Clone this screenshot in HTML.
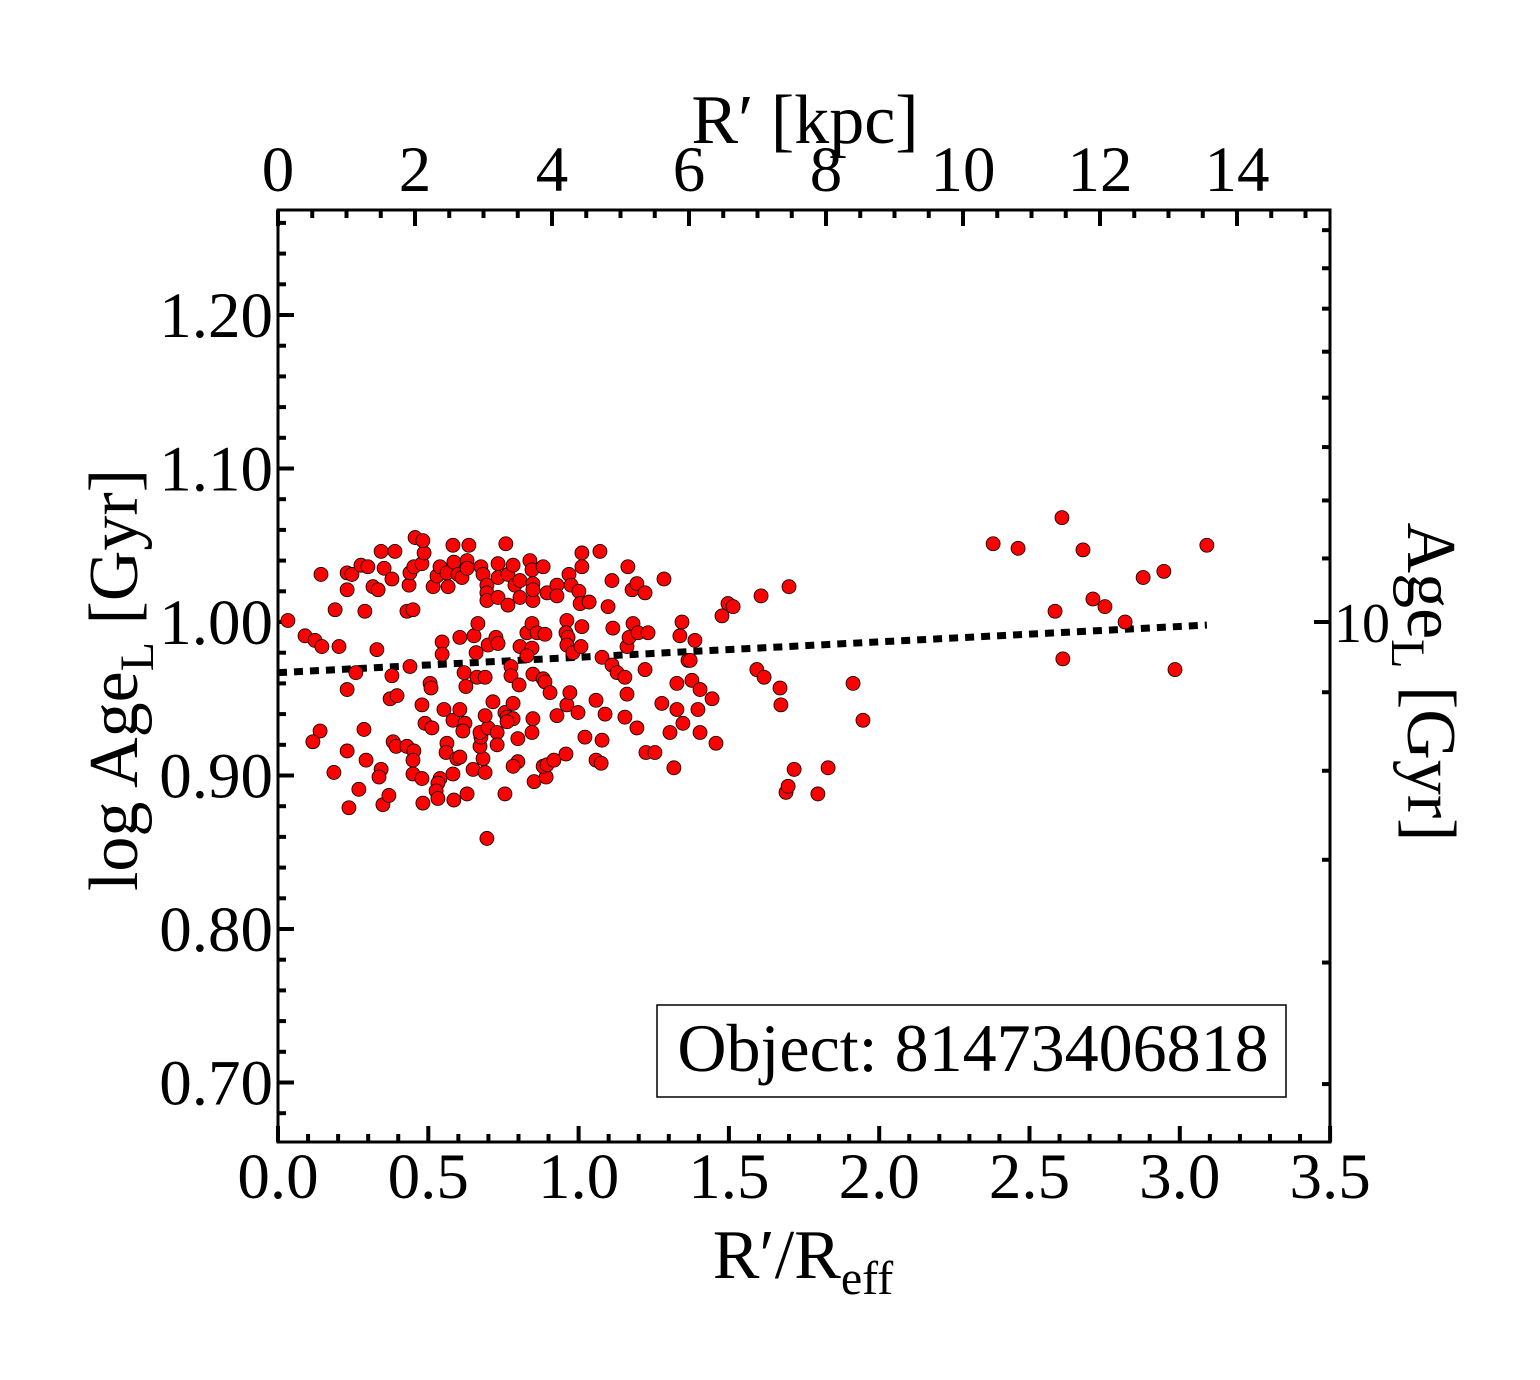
<!DOCTYPE html>
<html><head><meta charset="utf-8"><style>
html,body{margin:0;padding:0;background:#fff;}
svg text{font-family:"Liberation Serif",serif;fill:#000;}
</style></head><body>
<svg id="chart" width="1540" height="1375" viewBox="0 0 1540 1375" xmlns="http://www.w3.org/2000/svg">
<rect x="0" y="0" width="1540" height="1375" fill="#fff"/>
<g id="ticks"></g>
<g id="trend"></g>
<g id="points"></g>
<rect x="278" y="210" width="1052" height="932" fill="none" stroke="#000" stroke-width="3"/>
<g id="labels"></g>
<text x="805" y="143" font-size="70" text-anchor="middle">R′ [kpc]</text>
<text x="803" y="1278" font-size="70" text-anchor="middle">R′/R<tspan font-size="48" dy="16">eff</tspan></text>
<text transform="translate(137,680) rotate(-90)" font-size="70" text-anchor="middle">log Age<tspan font-size="48" dy="16">L</tspan><tspan dy="-16"> [Gyr]</tspan></text>
<text transform="translate(1408,682) rotate(90)" font-size="70" text-anchor="middle">Age<tspan font-size="48" dy="16">L</tspan><tspan dy="-16"> [Gyr]</tspan></text>
<g>
<rect x="657" y="1005" width="629" height="92" fill="#fff" stroke="#000" stroke-width="1.5"/>
<text x="973" y="1071" font-size="68" text-anchor="middle">Object: 81473406818</text>
</g>
</svg>
<script>
const xTicks = [0.0,0.5,1.0,1.5,2.0,2.5,3.0,3.5];
const xTickLabels = ["0.0","0.5","1.0","1.5","2.0","2.5","3.0","3.5"];
const yTicks = [0.70,0.80,0.90,1.00,1.10,1.20];
const yTickLabels = ["0.70","0.80","0.90","1.00","1.10","1.20"];
const kpcTicks = [0,2,4,6,8,10,12,14];
const kpcTickLabels = ["0","2","4","6","8","10","12","14"];
const ageTicks = [5,6,7,8,9,10,11,12,13,14,15,16,17,18];
const trendX = [0.0, 3.09];
const trendY = [0.967, 0.998];
const ptX = [0.033,0.090,0.123,0.146,0.203,0.143,0.190,0.230,0.246,0.230,0.276,0.299,0.343,0.389,0.289,0.316,0.333,0.353,0.379,0.329,0.259,0.230,0.379,0.439,0.373,0.396,0.140,0.116,0.230,0.286,0.293,0.186,0.343,0.336,0.269,0.236,0.349,0.369,0.383,0.393,0.429,0.452,0.449,0.449,0.479,0.482,0.436,0.439,0.452,0.479,0.486,0.456,0.482,0.429,0.449,0.516,0.529,0.539,0.562,0.566,0.582,0.585,0.599,0.612,0.629,0.629,0.635,0.675,0.682,0.695,0.695,0.695,0.732,0.732,0.732,0.758,0.765,0.765,0.782,0.788,0.805,0.805,0.838,0.845,0.848,0.848,0.848,0.882,0.895,0.928,0.928,0.968,0.975,1.001,1.005,1.035,1.011,1.011,1.071,1.098,1.111,1.164,1.178,1.194,1.221,1.284,0.546,0.546,0.605,0.652,0.665,0.659,0.699,0.725,0.732,0.805,0.828,0.845,0.862,0.888,0.845,0.828,0.961,0.958,0.965,0.961,0.981,1.011,1.008,1.078,1.114,1.111,1.128,1.154,1.161,1.168,1.181,1.198,1.231,1.221,1.161,1.154,1.194,1.224,1.254,1.317,1.304,1.327,1.327,1.337,1.364,0.619,0.662,0.689,0.625,0.506,0.509,0.479,0.489,0.512,0.552,0.582,0.605,0.622,0.615,0.562,0.559,0.595,0.605,0.582,0.539,0.532,0.526,0.532,0.585,0.629,0.649,0.689,0.682,0.672,0.675,0.672,0.699,0.729,0.689,0.715,0.755,0.762,0.782,0.762,0.782,0.775,0.775,0.802,0.848,0.882,0.888,0.905,0.848,0.845,0.798,0.729,0.798,0.782,0.755,0.695,0.852,0.892,0.882,0.895,0.918,0.958,0.928,0.961,0.971,0.998,1.021,1.058,1.088,1.078,1.058,1.075,1.344,1.387,1.371,1.377,1.404,1.397,1.347,1.404,1.444,1.457,1.477,1.497,1.514,1.607,1.700,1.593,1.617,1.670,1.673,1.717,1.690,1.697,1.796,1.830,1.913,1.946,1.277,2.379,2.462,2.608,2.585,2.611,2.678,2.711,2.751,2.818,2.878,2.947,2.984,3.090];
const ptY = [1.001,0.991,0.988,0.984,0.984,1.031,1.008,1.032,1.031,1.021,1.037,1.036,1.046,1.046,1.007,1.023,1.021,1.035,1.028,0.982,0.967,0.956,0.965,0.971,0.950,0.952,0.929,0.922,0.916,0.930,0.910,0.902,0.904,0.899,0.891,0.879,0.881,0.887,0.922,0.919,0.919,0.916,0.910,0.901,0.898,0.882,1.024,1.032,1.036,1.038,1.045,1.055,1.053,1.007,1.008,1.023,1.030,1.036,1.032,1.023,1.050,1.039,1.031,1.029,1.040,1.035,1.050,1.036,1.031,1.024,1.019,1.014,1.038,1.029,1.016,1.051,1.031,1.011,1.037,1.024,1.027,1.016,1.040,1.034,1.025,1.014,1.021,1.036,1.019,1.024,1.017,1.031,1.024,1.020,1.012,1.013,1.045,1.036,1.046,1.010,1.027,1.036,1.021,1.025,1.019,1.028,0.987,0.979,0.990,0.991,0.999,0.980,0.985,0.990,0.986,0.984,0.993,0.999,0.993,0.992,0.983,0.978,1.001,0.993,0.990,0.985,0.980,0.997,0.984,0.977,0.996,0.972,0.967,0.964,0.984,0.990,0.999,0.993,0.993,0.969,0.953,0.938,0.931,0.915,0.915,0.905,0.928,0.943,0.960,0.991,0.975,0.967,0.964,0.964,0.958,0.960,0.957,0.946,0.934,0.931,0.943,0.936,0.943,0.934,0.929,0.921,0.915,0.911,0.912,0.901,0.898,0.895,0.890,0.885,0.884,0.888,0.904,0.902,0.911,0.919,0.925,0.928,0.931,0.928,0.939,0.948,0.941,0.938,0.937,0.935,0.947,0.971,0.965,0.959,0.966,0.963,0.961,0.954,0.937,0.928,0.924,0.920,0.909,0.906,0.888,0.859,0.896,0.899,0.906,0.907,0.910,0.914,0.939,0.946,0.954,0.941,0.925,0.949,0.940,0.923,0.910,0.908,1.000,0.988,0.975,0.962,0.956,0.943,0.934,0.928,0.950,0.921,1.004,1.012,1.010,1.017,1.023,0.969,0.964,0.957,0.946,0.904,0.889,0.893,0.888,0.905,0.960,0.936,0.947,1.051,1.048,1.068,1.007,0.976,1.047,1.015,1.010,1.000,1.029,1.033,0.969,1.050];

const L=278,R=1330,T=210,B=1142;
function sx(v){return L+v*300.6;}
function sy(v){return 622-(v-1.0)*1535;}
function skpc(v){return L+v*68.5;}
const NS="http://www.w3.org/2000/svg";
function mk(tag,attrs,parent){const e=document.createElementNS(NS,tag);for(const k in attrs)e.setAttribute(k,attrs[k]);parent.appendChild(e);return e;}
const tg=document.getElementById('ticks'), lg=document.getElementById('labels');
function tick(x1,y1,x2,y2){const l=mk('line',{x1:x1,y1:y1,x2:x2,y2:y2,stroke:'#000','stroke-width':4},tg);

}
for(let v=0;v<=3.5001;v+=0.1){const x=sx(v);const major=Math.abs(v*2-Math.round(v*2))<1e-6;tick(x,B,x,B-(major?16:8));}
xTicks.forEach((v,i)=>{const t=mk('text',{x:sx(v),y:1198,'font-size':65,'text-anchor':'middle'},lg);t.textContent=xTickLabels[i];

});
for(let v=0;v<=15.3;v+=0.5){const x=skpc(v);if(x>R)break;const major=Math.abs(v/2-Math.round(v/2))<1e-6;tick(x,T,x,T+(major?16:8));}
kpcTicks.forEach((v,i)=>{const t=mk('text',{x:skpc(v),y:191,'font-size':65,'text-anchor':'middle'},lg);t.textContent=kpcTickLabels[i];

});
for(let i=0;i<40;i++){const v=0.66+i*0.02;const y=sy(v);if(y<T||y>B)continue;const major=Math.abs(v*10-Math.round(v*10))<1e-6;tick(L,y,L+(major?16:8),y);}
yTicks.forEach((v,i)=>{const t=mk('text',{x:273,y:sy(v)+22,'font-size':65,'text-anchor':'end'},lg);t.textContent=yTickLabels[i];

});
ageTicks.forEach(a=>{const y=sy(Math.log10(a));if(y<T||y>B)return;tick(R,y,R-(a===10?16:8),y);});
const rt=mk('text',{x:1334,y:sy(1)+20,'font-size':56},lg);rt.textContent='10';


const tl=mk('line',{x1:sx(trendX[0]),y1:sy(trendY[0]),x2:sx(trendX[1]),y2:sy(trendY[1]),stroke:'#000','stroke-width':7,'stroke-dasharray':'9 7'},document.getElementById('trend'));


const pg=document.getElementById('points');
ptX.forEach((v,i)=>{const c=mk('circle',{cx:sx(v),cy:sy(ptY[i]),r:7,fill:'#ff0000',stroke:'#000','stroke-width':0.8},pg);

});
</script>
</body></html>
